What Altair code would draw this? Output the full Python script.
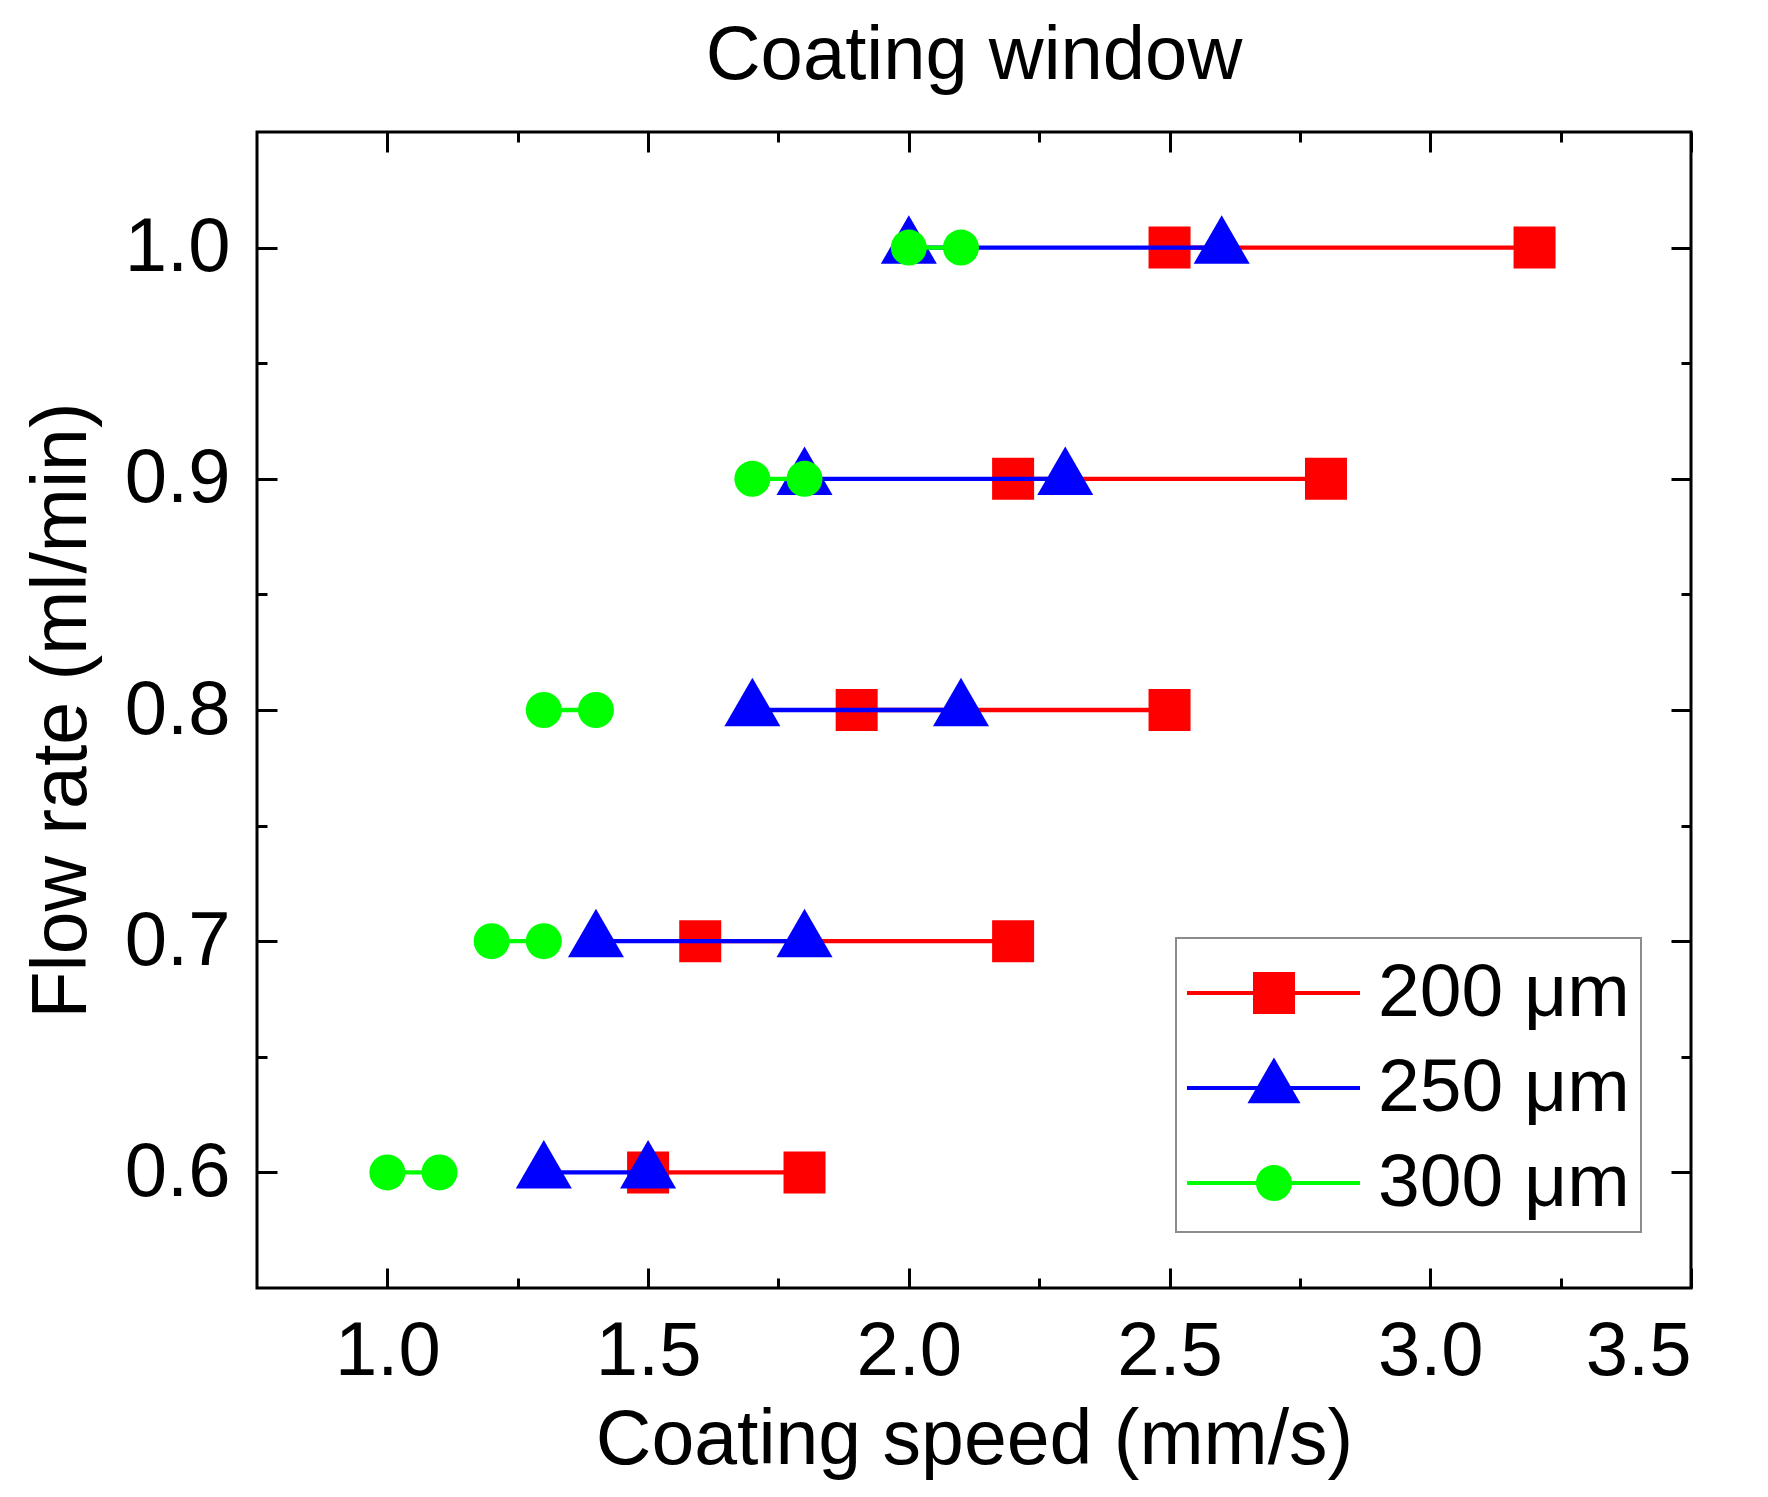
import altair as alt
import pandas as pd

# ---- data ----
flow = [0.6, 0.7, 0.8, 0.9, 1.0]
s200_lo = [1.5, 1.6, 1.9, 2.2, 2.5]
s200_hi = [1.8, 2.2, 2.5, 2.8, 3.2]
s250_lo = [1.3, 1.4, 1.7, 1.8, 2.0]
s250_hi = [1.5, 1.8, 2.1, 2.3, 2.6]
s300_lo = [1.0, 1.2, 1.3, 1.7, 2.0]
s300_hi = [1.1, 1.3, 1.4, 1.8, 2.1]
series_names = ["200 μm", "250 μm", "300 μm"]
series_colors = ["#ff0000", "#0000ff", "#00ff00"]
x_major = [1.0, 1.5, 2.0, 2.5, 3.0, 3.5]
x_all = [1.0, 1.25, 1.5, 1.75, 2.0, 2.25, 2.5, 2.75, 3.0, 3.25, 3.5]
y_major = [0.6, 0.7, 0.8, 0.9, 1.0]
y_all = [0.6, 0.65, 0.7, 0.75, 0.8, 0.85, 0.9, 0.95, 1.0]

FONT = "Liberation Sans"
W, H = 1434, 1156

rows = []
for name, lo, hi in zip(series_names, [s200_lo, s250_lo, s300_lo], [s200_hi, s250_hi, s300_hi]):
    for f, a, b in zip(flow, lo, hi):
        rows.append({"series": name, "flow": f, "speed": a})
        rows.append({"series": name, "flow": f, "speed": b})
df = pd.DataFrame(rows)

xscale = alt.Scale(domain=[0.75, 3.5], nice=False, zero=False)
yscale = alt.Scale(domain=[0.55, 1.05], nice=False, zero=False)

x_major_test = "abs(datum.value*2 - round(datum.value*2)) < 0.01"
y_major_test = "abs(datum.value*10 - round(datum.value*10)) < 0.01"

def tick_axis(orient, offset, values, test):
    return alt.Axis(orient=orient, offset=offset, values=values, labels=False,
                    domain=False, grid=False, ticks=True, tickWidth=3,
                    tickColor="black",
                    tickSize={"condition": {"test": test, "value": 20}, "value": 10},
                    title=None)

x_label_axis = alt.Axis(orient="bottom", values=x_major, format=".1f", ticks=False,
                        domain=False, grid=False, labelFont=FONT, labelFontSize=76,
                        labelColor="black", labelPadding=26,
                        title="Coating speed (mm/s)", titleFont=FONT, titleFontSize=77,
                        titleFontWeight="normal", titleColor="black", titlePadding=13)
y_label_axis = alt.Axis(orient="left", values=y_major, format=".1f", ticks=False,
                        domain=False, grid=False, labelFont=FONT, labelFontSize=76,
                        labelColor="black", labelPadding=27,
                        title="Flow rate (ml/min)", titleFont=FONT, titleFontSize=77,
                        titleFontWeight="normal", titleColor="black", titlePadding=23)

tri_path = "M0,-1.155L1,0.577L-1,0.577Z"
plot_shapes = ["square", tri_path, "circle"]
plot_sizes = [1764, 3136, 1296]

leg_square = "M-1,-0.0455L2.932,-0.0455L2.932,0.0455L-1,0.0455Z M0.5,-0.477L1.454,-0.477L1.454,0.477L0.5,0.477Z"
leg_tri = "M-1,-0.0455L2.932,-0.0455L2.932,0.0455L-1,0.0455Z M0.977,-0.695L1.579,0.348L0.375,0.348Z"
leg_circle = "M-1,-0.0455L2.932,-0.0455L2.932,0.0455L-1,0.0455Z M0.568,0A0.409,0.409 0 1,1 1.386,0A0.409,0.409 0 1,1 0.568,0Z"
legend_paths = [leg_square, leg_tri, leg_circle]

axes_for = {
    (0, "line"): (x_label_axis, y_label_axis),
    (0, "point"): (tick_axis("top", -H, x_all, x_major_test), tick_axis("right", -W, y_all, y_major_test)),
    (1, "line"): (tick_axis("bottom", -H, x_all, x_major_test), tick_axis("left", -W, y_all, y_major_test)),
}

layers = []
for i, name in enumerate(series_names):
    sub = df[df["series"] == name]
    base = alt.Chart(sub)
    ax, ay = axes_for.get((i, "line"), (None, None))
    line = base.mark_line(color=series_colors[i], strokeWidth=4.3).encode(
        x=alt.X("speed:Q", scale=xscale, axis=ax),
        y=alt.Y("flow:Q", scale=yscale, axis=ay),
        detail="flow:N",
        order="speed:Q",
    )
    ax, ay = axes_for.get((i, "point"), (None, None))
    pts = base.mark_point(filled=True, shape=plot_shapes[i], size=plot_sizes[i],
                          color=series_colors[i], opacity=1, strokeWidth=0).encode(
        x=alt.X("speed:Q", scale=xscale, axis=ax),
        y=alt.Y("flow:Q", scale=yscale, axis=ay),
    )
    layers += [line, pts]

leg = alt.Legend(orient="none", legendX=919, legendY=806, title=None, padding=11,
                 rowPadding=13, labelFont=FONT, labelFontSize=75, labelColor="black",
                 labelOffset=103, labelLimit=600, symbolSize=7744, symbolStrokeWidth=0,
                 symbolOpacity=1, fillColor="white", strokeColor="#8c8c8c")

dummy = alt.Chart(df).mark_point(filled=True, opacity=0, size=7744).encode(
    x=alt.X("speed:Q", scale=xscale, axis=None),
    y=alt.Y("flow:Q", scale=yscale, axis=None),
    color=alt.Color("series:N", scale=alt.Scale(domain=series_names, range=series_colors), legend=leg),
    shape=alt.Shape("series:N", scale=alt.Scale(domain=series_names, range=legend_paths), legend=leg),
)
layers.append(dummy)

chart = alt.layer(*layers).resolve_axis(x="independent", y="independent").properties(
    width=W, height=H,
    title=alt.TitleParams("Coating window", font=FONT, fontSize=76, fontWeight="normal",
                          color="black", baseline="alphabetic", offset=-24, anchor="middle"),
    autosize=alt.AutoSizeParams(type="none"),
    padding={"left": 249, "top": 124, "right": 60, "bottom": 205},
).configure_view(stroke="black", strokeWidth=3).configure_legend(strokeWidth=2)

chart.save("out.html", embed_options={"renderer": "svg", "actions": False})
